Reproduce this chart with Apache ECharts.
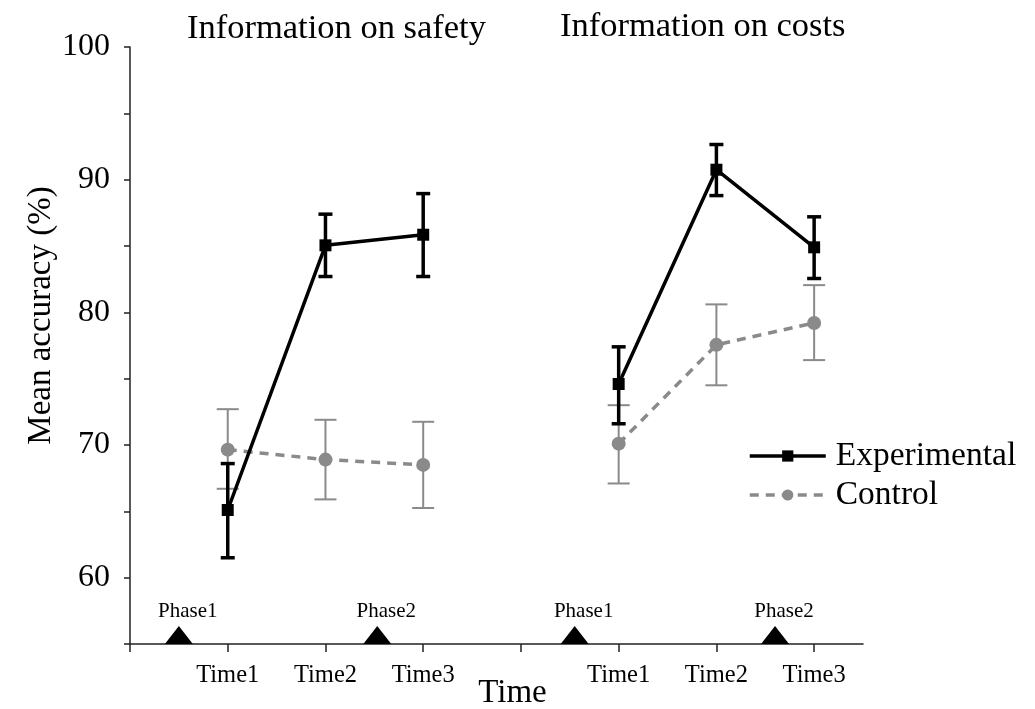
<!DOCTYPE html>
<html>
<head>
<meta charset="utf-8">
<script src="https://cdn.jsdelivr.net/npm/echarts@6/dist/echarts.min.js"></script>
<style>
html,body{margin:0;padding:0;background:#fff;}
#chart{width:1035px;height:709px;}
</style>
</head>
<body>
<div id="chart"></div>
<script>
// ---- data ----
const panelTitles = ['Information on safety', 'Information on costs'];
const timeTickValues = [0, 1, 2, 3, 4, 5, 6, 7];
const timeLabelValues = [1, 2, 3, 5, 6, 7];
const timeLabels = {1: 'Time1', 2: 'Time2', 3: 'Time3', 5: 'Time1', 6: 'Time2', 7: 'Time3'};
const yTickLabels = [60, 70, 80, 90, 100];

// Safety panel (x = 1..3), Costs panel (x = 5..7)
const safetyX = [1, 2, 3];
const costsX = [5, 6, 7];

const expSafety = [65.1, 85.05, 85.85];
const expSafetyLow = [61.5, 82.7, 82.7];
const expSafetyHigh = [68.6, 87.4, 88.95];

const ctlSafety = [69.65, 68.9, 68.5];
const ctlSafetyLow = [66.7, 65.9, 65.25];
const ctlSafetyHigh = [72.7, 71.9, 71.75];

const expCosts = [74.6, 90.75, 84.9];
const expCostsLow = [71.6, 88.8, 82.55];
const expCostsHigh = [77.4, 92.65, 87.2];

const ctlCosts = [70.1, 77.55, 79.2];
const ctlCostsLow = [67.1, 74.5, 76.4];
const ctlCostsHigh = [73.0, 80.6, 82.05];

const phaseX = [0.5, 2.53, 4.55, 6.6];
const phaseLabels = ['Phase1', 'Phase2', 'Phase1', 'Phase2'];

// ---- helpers ----
const FONT = '"Liberation Serif", "DejaVu Serif", serif';
const EXP_COLOR = '#000000';
const CTL_COLOR = '#8a8a8a';
function pts(xs, ys) { return xs.map((x, i) => [x, ys[i]]); }
function bars(xs, lo, hi) { return xs.map((x, i) => [x, lo[i], hi[i]]); }

function errorSeries(data, color, width, capHalf, z) {
  return {
    type: 'custom',
    silent: true,
    z: z,
    data: data,
    renderItem: function (params, api) {
      const x = api.value(0);
      const lo = api.coord([x, api.value(1)]);
      const hi = api.coord([x, api.value(2)]);
      const st = {stroke: color, lineWidth: width, fill: null};
      return {
        type: 'group',
        children: [
          {type: 'line', shape: {x1: lo[0], y1: lo[1], x2: hi[0], y2: hi[1]}, style: st},
          {type: 'line', shape: {x1: lo[0] - capHalf, y1: lo[1], x2: lo[0] + capHalf, y2: lo[1]}, style: st},
          {type: 'line', shape: {x1: hi[0] - capHalf, y1: hi[1], x2: hi[0] + capHalf, y2: hi[1]}, style: st}
        ]
      };
    }
  };
}

function ctlLine(data) {
  return {
    name: 'Control', type: 'line', data: data, z: 3,
    symbol: 'circle', symbolSize: 14,
    itemStyle: {color: CTL_COLOR, opacity: 1},
    lineStyle: {color: CTL_COLOR, width: 3.5, type: [9, 7]}
  };
}
function expLine(data) {
  return {
    name: 'Experimental', type: 'line', data: data, z: 5,
    symbol: 'rect', symbolSize: 12,
    itemStyle: {color: EXP_COLOR, opacity: 1},
    lineStyle: {color: EXP_COLOR, width: 3.5}
  };
}

const chart = echarts.init(document.getElementById('chart'));
chart.setOption({
  animation: false,
  backgroundColor: '#fff',
  title: [
    {text: panelTitles[0], left: 182, top: 6, textStyle: {fontFamily: FONT, fontSize: 34.5, fontWeight: 'normal', color: '#000'}},
    {text: panelTitles[1], left: 555, top: 4, textStyle: {fontFamily: FONT, fontSize: 34.5, fontWeight: 'normal', color: '#000'}}
  ],
  legend: {
    left: 743, top: 434, orient: 'vertical',
    itemWidth: 76, itemHeight: 14, itemGap: 5,
    data: [
      {name: 'Experimental', lineStyle: {width: 3.5, color: EXP_COLOR}},
      {name: 'Control', lineStyle: {width: 3.5, color: CTL_COLOR, type: [9, 7]}}
    ],
    textStyle: {fontFamily: FONT, fontSize: 33.5, color: '#000', padding: [0, 0, 0, 5]}
  },
  grid: {left: 130, right: 172, top: 47, bottom: 65, containLabel: false, outerBoundsMode: 'none'},
  xAxis: {
    type: 'value', min: 0, max: 7.5, interval: 1,
    name: 'Time', nameLocation: 'middle', nameGap: 33, nameMoveOverlap: false,
    nameTextStyle: {fontFamily: FONT, fontSize: 33, color: '#000', padding: [0, 0, 0, 32]},
    splitLine: {show: false},
    axisLine: {lineStyle: {color: '#222', width: 1.5}},
    axisTick: {length: 8, customValues: timeTickValues, lineStyle: {color: '#222', width: 1.5}},
    axisLabel: {
      customValues: timeLabelValues, margin: 19,
      fontFamily: FONT, fontSize: 24.5, color: '#000',
      formatter: v => timeLabels[v] || ''
    }
  },
  yAxis: {
    type: 'value', min: 55, max: 100, interval: 5,
    name: 'Mean accuracy (%)', nameLocation: 'middle', nameGap: 72, nameMoveOverlap: false,
    nameTextStyle: {fontFamily: FONT, fontSize: 33, color: '#000', padding: [0, 0, 0, 60]},
    splitLine: {show: false},
    axisLine: {show: true, lineStyle: {color: '#222', width: 1.5}},
    axisTick: {show: true, length: 6, lineStyle: {color: '#222', width: 1.5}},
    axisLabel: {
      margin: 20, fontFamily: FONT, fontSize: 32, color: '#000',
      formatter: v => (yTickLabels.indexOf(v) >= 0 ? String(v) : '')
    }
  },
  series: [
    errorSeries(bars(safetyX, ctlSafetyLow, ctlSafetyHigh), CTL_COLOR, 2, 11, 2),
    errorSeries(bars(costsX, ctlCostsLow, ctlCostsHigh), CTL_COLOR, 2, 11, 2),
    ctlLine(pts(safetyX, ctlSafety)),
    ctlLine(pts(costsX, ctlCosts)),
    errorSeries(bars(safetyX, expSafetyLow, expSafetyHigh), EXP_COLOR, 3.5, 7, 4),
    errorSeries(bars(costsX, expCostsLow, expCostsHigh), EXP_COLOR, 3.5, 7, 4),
    expLine(pts(safetyX, expSafety)),
    expLine(pts(costsX, expCosts)),
    {
      type: 'scatter', clip: false, z: 6, silent: true,
      symbol: 'triangle', symbolSize: [28, 18], symbolOffset: [0, -9],
      itemStyle: {color: '#000', opacity: 1},
      data: phaseX.map((x, i) => ({value: [x, 55], name: phaseLabels[i]})),
      label: {
        show: true, position: 'top', distance: 4, offset: [9, 0],
        formatter: p => p.name,
        fontFamily: FONT, fontSize: 21, color: '#000', opacity: 1
      }
    }
  ]
});
</script>
</body>
</html>
